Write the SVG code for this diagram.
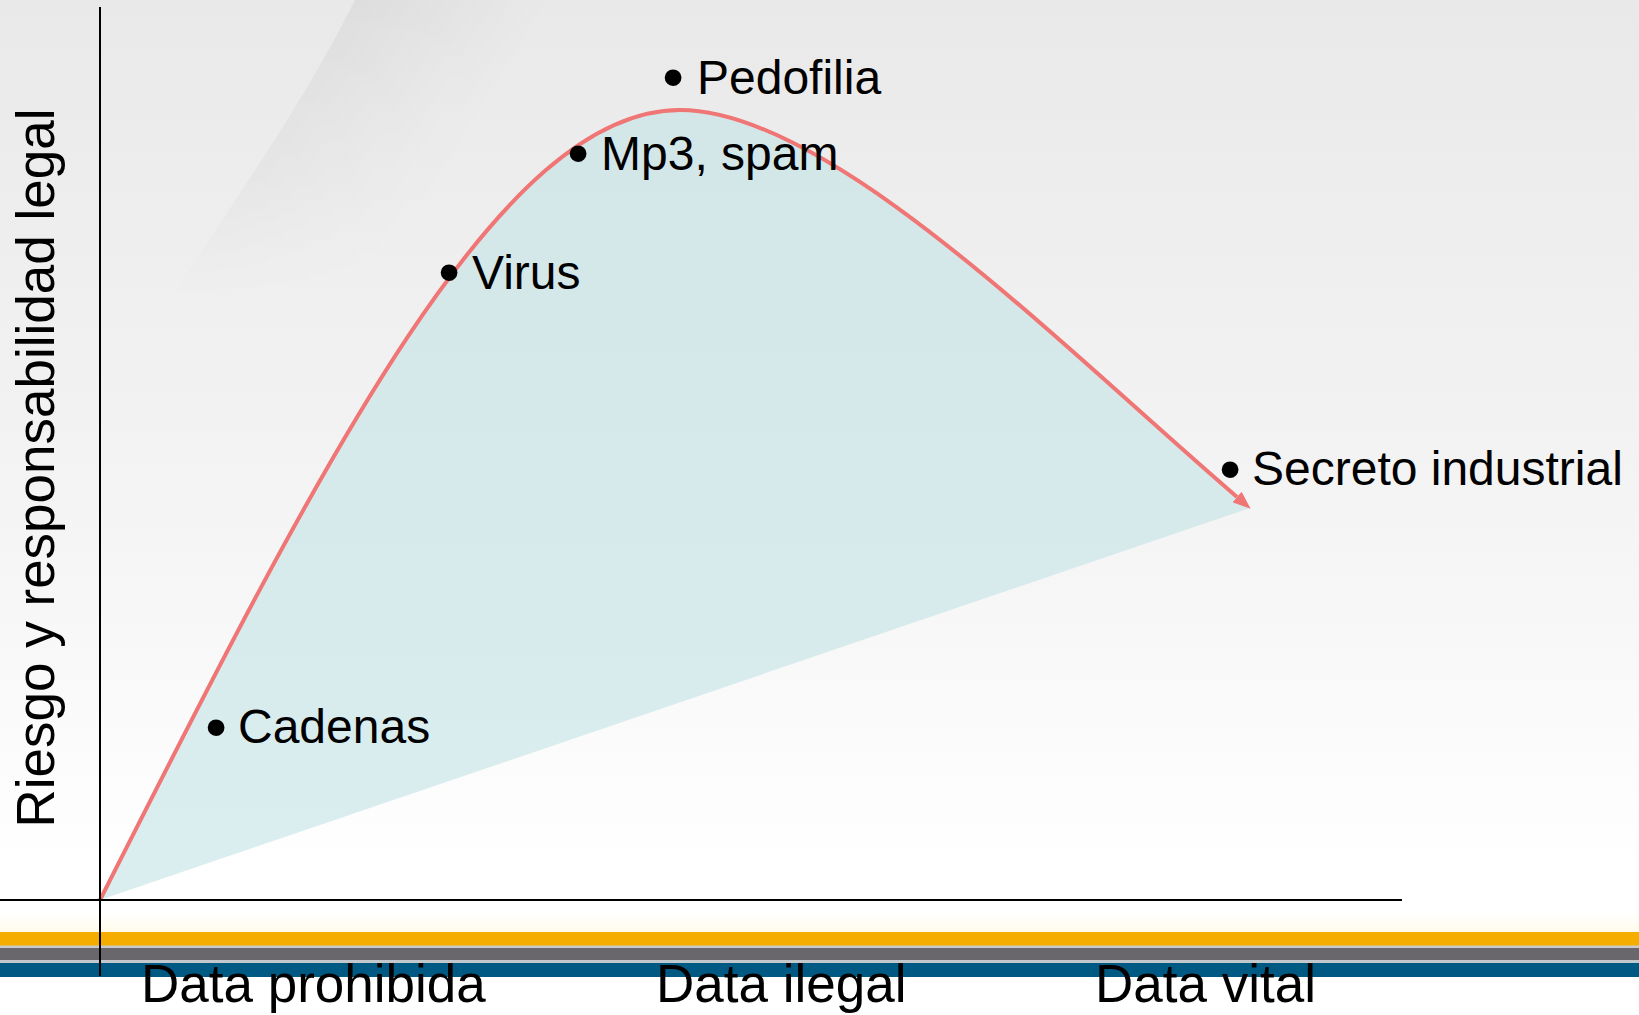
<svg xmlns="http://www.w3.org/2000/svg" width="1639" height="1015" viewBox="0 0 1639 1015">
  <style>
    .lbl { font-family: "Liberation Sans", Arial, sans-serif; font-size: 48px; fill: #000; }
    .dot { font-family: "Liberation Sans", Arial, sans-serif; font-size: 62px; fill: #000; text-anchor: middle; }
    .ax { font-family: "Liberation Sans", Arial, sans-serif; font-size: 53px; fill: #000; }
    .axis { stroke: #000; stroke-width: 2; fill: none; }
    .curve { stroke: #F07575; stroke-width: 4; fill: none; }
  </style>
  <defs>
    <linearGradient id="bg" x1="0" y1="0" x2="0" y2="1015" gradientUnits="userSpaceOnUse">
      <stop offset="0" stop-color="#E9E9E9"/>
      <stop offset="0.5" stop-color="#F4F4F4"/>
      <stop offset="0.86" stop-color="#FFFFFF"/>
      <stop offset="1" stop-color="#FFFFFF"/>
    </linearGradient>
    <linearGradient id="sheen" x1="300" y1="100" x2="440" y2="186" gradientUnits="userSpaceOnUse">
      <stop offset="0" stop-color="#000" stop-opacity="0.045"/>
      <stop offset="1" stop-color="#000" stop-opacity="0"/>
    </linearGradient>
    <linearGradient id="fadeDown" x1="0" y1="0" x2="0" y2="300" gradientUnits="userSpaceOnUse">
      <stop offset="0" stop-color="#fff"/>
      <stop offset="0.6" stop-color="#fff" stop-opacity="0.6"/>
      <stop offset="1" stop-color="#fff" stop-opacity="0"/>
    </linearGradient>
    <mask id="sheenMask" maskUnits="userSpaceOnUse" x="0" y="0" width="1639" height="320">
      <rect x="0" y="0" width="1639" height="320" fill="url(#fadeDown)"/>
    </mask>
    <linearGradient id="glow" x1="0" y1="912" x2="0" y2="932" gradientUnits="userSpaceOnUse">
      <stop offset="0" stop-color="#FFFFFF"/>
      <stop offset="1" stop-color="#FFFBEA"/>
    </linearGradient>
    <marker id="arrow" markerUnits="userSpaceOnUse" markerWidth="18" markerHeight="14" viewBox="0 0 18 14" refX="0" refY="7" orient="auto">
      <path d="M0,0 L18,7 L0,14 Z" fill="#F07575"/>
    </marker>
  </defs>

  <g id="background">
    <rect x="0" y="0" width="1639" height="1015" fill="url(#bg)"/>
    <path d="M355,0 C300,110 240,190 170,300 L900,300 L1100,0 Z" fill="url(#sheen)" mask="url(#sheenMask)"/>
    <rect x="0" y="912" width="1639" height="20" fill="url(#glow)"/>
    <rect x="0" y="932" width="1639" height="14" fill="#F5AD00"/>
    <rect x="0" y="945.5" width="1639" height="2.5" fill="#C9C9C9"/>
    <rect x="0" y="948" width="1639" height="12" fill="#69676B"/>
    <rect x="0" y="960" width="1639" height="3" fill="#C3C8CC"/>
    <rect x="0" y="963" width="1639" height="14" fill="#005983"/>
  </g>

  <g id="area">
    <path d="M100,900 C325,455 500,110 680,110 C830,110 1060,345 1237,497 L1250,508 Z" fill="#C4E3E7" fill-opacity="0.62"/>
  </g>

  <g id="connectors">
    <path class="curve" d="M100,900 C325,455 500,110 680,110 C830,110 1060,345 1237,497" marker-end="url(#arrow)"/>
  </g>

  <g id="axes">
    <line class="axis" x1="100" y1="7" x2="100" y2="976"/>
    <line class="axis" x1="0" y1="900" x2="1402" y2="900"/>
  </g>

  <g id="node-pedofilia"><text class="dot" x="673" y="98">•</text><text class="lbl" x="697" y="94">Pedofilia</text></g>
  <g id="node-mp3"><text class="dot" x="578" y="174">•</text><text class="lbl" x="601" y="170">Mp3, spam</text></g>
  <g id="node-virus"><text class="dot" x="449" y="293">•</text><text class="lbl" x="472" y="289">Virus</text></g>
  <g id="node-cadenas"><text class="dot" x="216" y="748">•</text><text class="lbl" x="238" y="743">Cadenas</text></g>
  <g id="node-secreto"><text class="dot" x="1230" y="490">•</text><text class="lbl" x="1252" y="485">Secreto industrial</text></g>

  <g id="axis-labels">
    <text class="ax" transform="translate(54,468) rotate(-90)" text-anchor="middle">Riesgo y responsabilidad legal</text>
    <text class="ax" x="141" y="1002">Data prohibida</text>
    <text class="ax" x="656" y="1002">Data ilegal</text>
    <text class="ax" x="1095" y="1002">Data vital</text>
  </g>
</svg>
